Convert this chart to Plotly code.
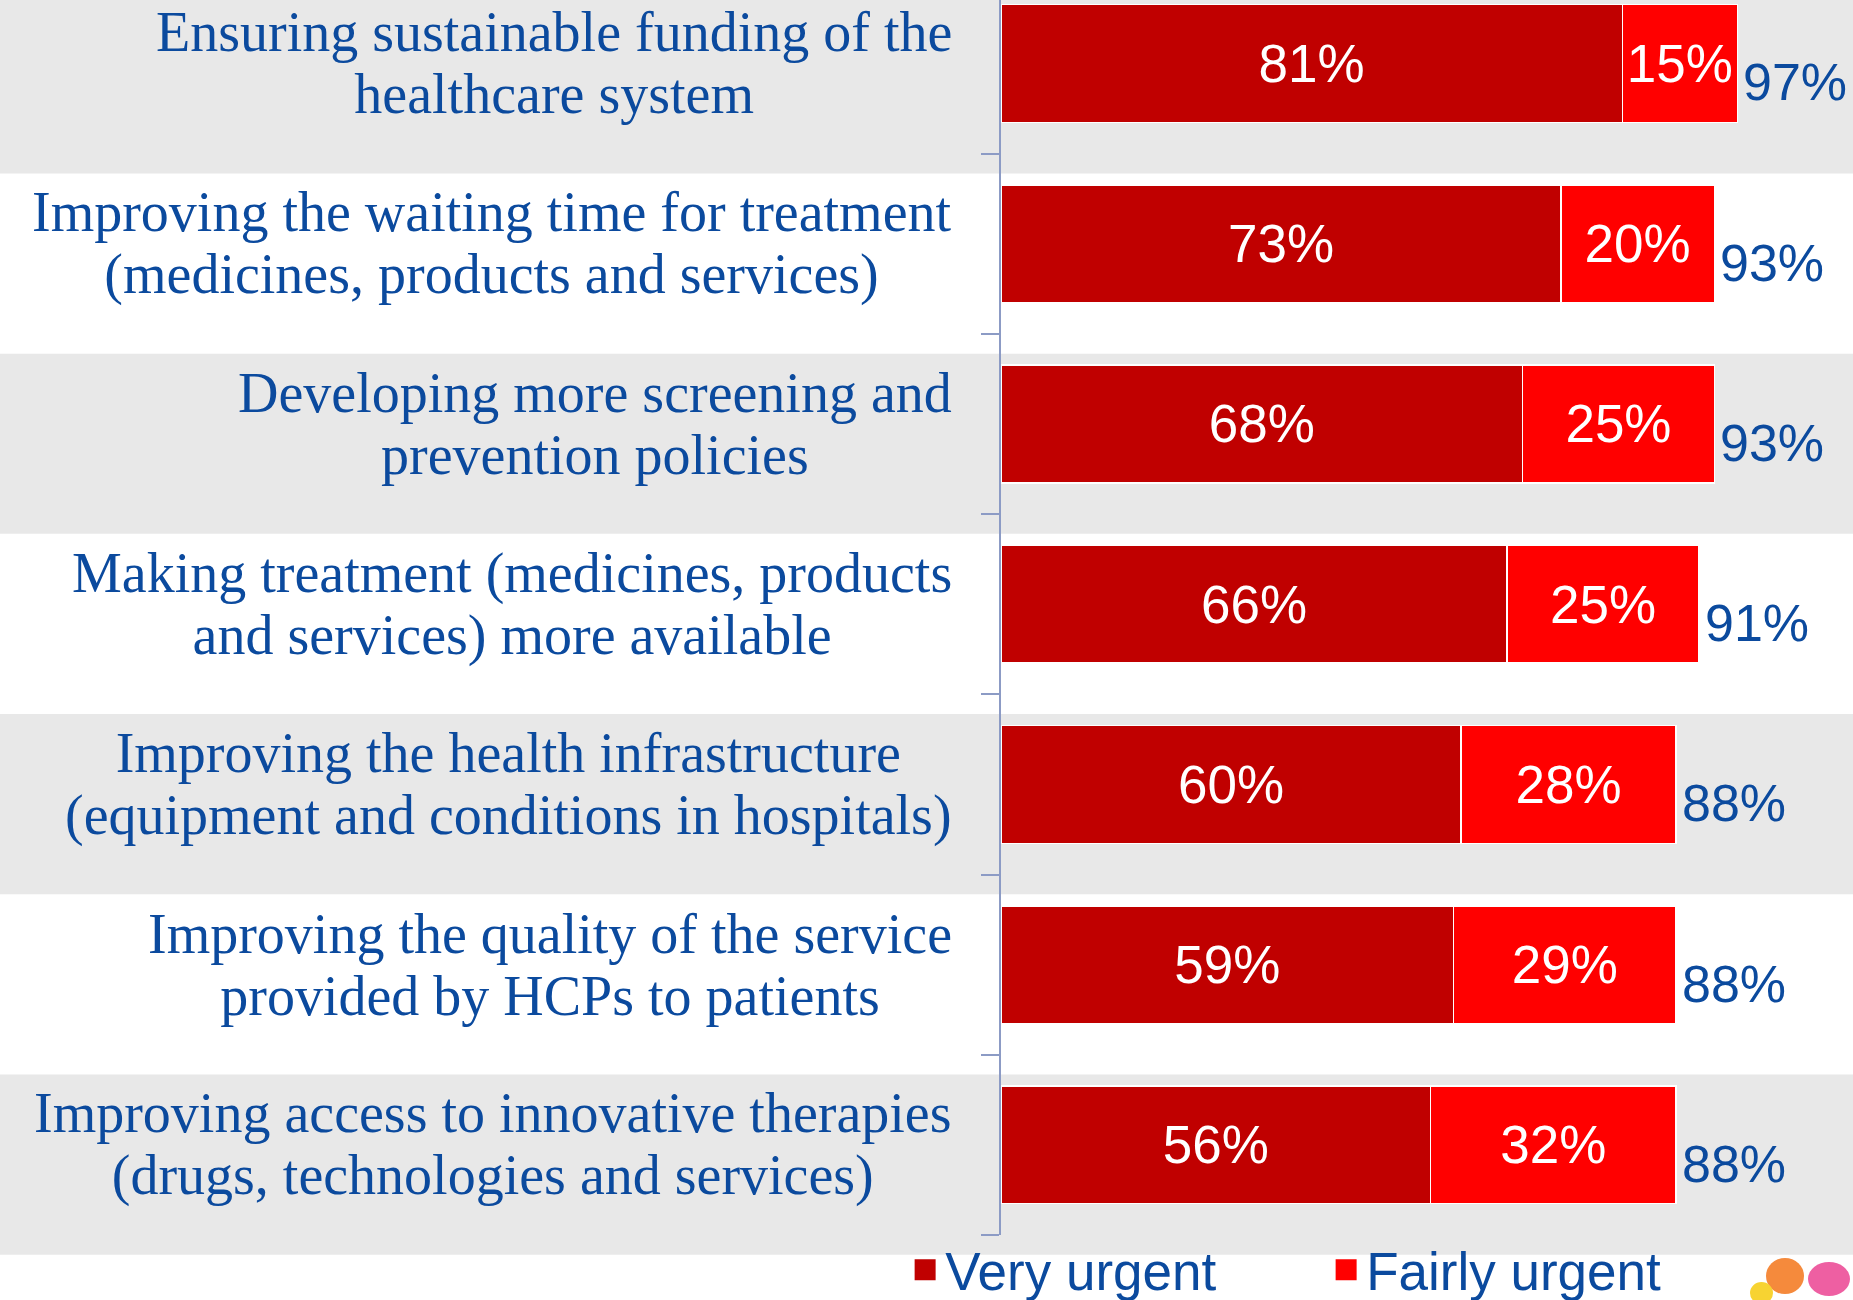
import plotly.graph_objects as go

categories = [
    "Ensuring sustainable funding of the<br>healthcare system",
    "Improving the waiting time for treatment<br>(medicines, products and services)",
    "Developing more screening and<br>prevention policies",
    "Making treatment (medicines, products<br>and services) more available",
    "Improving the health infrastructure<br>(equipment and conditions in hospitals)",
    "Improving the quality of the service<br>provided by HCPs to patients",
    "Improving access to innovative therapies<br>(drugs, technologies and services)",
]
very_urgent = [81, 73, 68, 66, 60, 59, 56]
fairly_urgent = [15, 20, 25, 25, 28, 29, 32]
total_labels = ["97%", "93%", "93%", "91%", "88%", "88%", "88%"]
series_names = ["Very urgent", "Fairly urgent"]

BLUE = "#0B4A9E"
DARK_RED = "#C00000"
RED = "#FF0000"
SANS = "Liberation Sans, Arial, sans-serif"
SERIF = "Liberation Serif, Times New Roman, serif"

ypos = list(range(len(categories)))
Y_TOP, Y_BOT = -0.352, 6.5

fig = go.Figure()
for vals, name, col in [(very_urgent, series_names[0], DARK_RED),
                        (fairly_urgent, series_names[1], RED)]:
    fig.add_trace(go.Bar(
        y=ypos, x=vals, orientation="h", name=name, showlegend=False,
        marker=dict(color=col, line=dict(color="white", width=1.5)),
        width=0.653,
        text=[f"{v}%" for v in vals], textposition="inside",
        insidetextanchor="middle", constraintext="none",
        textfont=dict(family=SANS, size=53, color="white"),
    ))
# legend entries with larger square swatches
for name, col in [(series_names[0], DARK_RED), (series_names[1], RED)]:
    fig.add_trace(go.Scatter(
        x=[None], y=[None], mode="markers", name=name,
        marker=dict(symbol="square", size=16, color=col,
                    line=dict(color=col, width=5)),
    ))

def to_paper(yv):
    return (Y_BOT - yv) / (Y_BOT - Y_TOP)

shapes = []
for i in ypos:
    if i % 2 == 0:
        shapes.append(dict(
            type="rect", xref="paper", yref="paper",
            x0=-2, x1=2, y0=to_paper(i + 0.61), y1=to_paper(i - 0.39),
            fillcolor="#E8E8E8", line=dict(width=0), layer="below",
        ))

# partial logo in the bottom-right corner (decorative)
PW, PH, L, B = 767.0, 1235.0, 1001.0, 65.0
def px(xp):
    return (xp - L) / PW
def py(yp):
    return (PH - yp) / PH
for (x0, y0, x1, y1, c) in [(1766, 1258, 1804, 1294, "#F58A3C"),
                            (1808, 1262, 1850, 1296, "#EE5FA2"),
                            (1750, 1282, 1773, 1304, "#F7D332")]:
    shapes.append(dict(type="circle", xref="paper", yref="paper",
                       x0=px(x0), x1=px(x1), y0=py(y1), y1=py(y0),
                       fillcolor=c, line=dict(width=0), layer="above"))

annotations = []
for i, cat in enumerate(categories):
    lines = cat.split("<br>")
    txt = "<br>".join(f"<span style='font-size:56px'>{ln}</span>" for ln in lines)
    annotations.append(dict(
        x=0, y=i, xref="x", yref="y", text=txt, showarrow=False,
        xanchor="right", yanchor="middle", align="center", xshift=-47,
        font=dict(family=SERIF, size=48, color=BLUE),
    ))
for i, (v, f, t) in enumerate(zip(very_urgent, fairly_urgent, total_labels)):
    annotations.append(dict(
        x=v + f, y=i, xref="x", yref="y", text=t, showarrow=False,
        xanchor="left", yanchor="middle", xshift=4, yshift=-19,
        font=dict(family=SANS, size=52, color=BLUE),
    ))

fig.update_layout(
    barmode="stack",
    width=1853, height=1300,
    margin=dict(l=1001, r=85, t=0, b=65, autoexpand=False),
    paper_bgcolor="white", plot_bgcolor="rgba(0,0,0,0)",
    xaxis=dict(visible=False, range=[0, 100], fixedrange=True),
    yaxis=dict(
        range=[Y_BOT, Y_TOP], showticklabels=False, showgrid=False, zeroline=False,
        showline=True, linecolor="#8C9BC5", linewidth=2,
        ticks="outside", ticklen=18, tickwidth=2, tickcolor="#8C9BC5",
        tickmode="array", tickvals=[i + 0.5 for i in ypos],
    ),
    shapes=shapes,
    annotations=annotations,
    showlegend=True,
    legend=dict(
        orientation="h", x=-0.125, xanchor="left", y=0.005, yanchor="top",
        font=dict(family=SANS, size=53, color=BLUE),
        bgcolor="rgba(0,0,0,0)", traceorder="normal", itemsizing="trace",
        entrywidth=376, entrywidthmode="pixels",
    ),
)

fig.write_html("out.html", config={"displayModeBar": False},
               post_script="document.body.style.margin='0px';")
